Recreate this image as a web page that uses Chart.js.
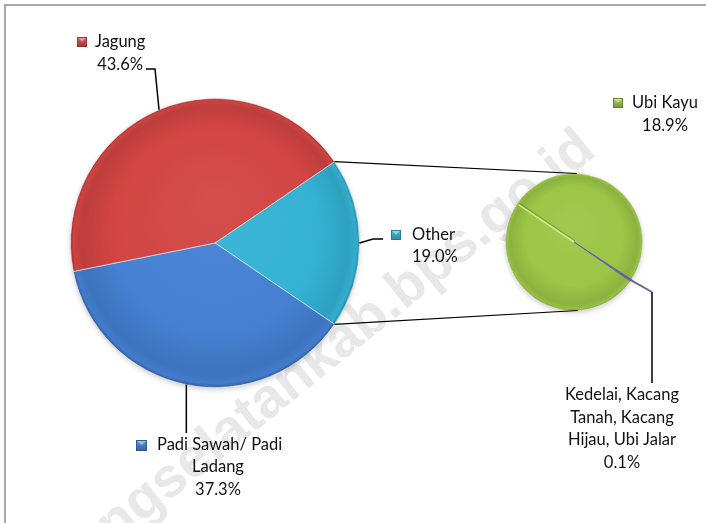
<!DOCTYPE html>
<html><head><meta charset="utf-8">
<script src="https://cdn.jsdelivr.net/npm/chart.js@4"></script>
<style>
html,body{margin:0;padding:0;background:#fff;}
#wrap{position:relative;width:706px;height:523px;overflow:hidden;background:#fff;}
canvas{position:absolute;left:0;top:0;}
#frame{position:absolute;left:4px;top:4px;width:760px;height:560px;border-left:2px solid #a9a9a9;border-top:2px solid #a9a9a9;}
</style></head><body>
<div id="wrap"><div id="frame"></div><canvas id="main" width="706" height="523"></canvas><canvas id="second" width="706" height="523"></canvas></div>
<script>
// ---- data ----
const mainLabels = ['Other', ['Padi Sawah/ Padi', 'Ladang'], 'Jagung'];
const mainValues = [19.0, 37.3, 43.6];
const mainColors = ['#34b2d4', '#4580d2', '#d24543'];
const secondLabels = ['Ubi Kayu', ['Kedelai, Kacang', 'Tanah, Kacang', 'Hijau, Ubi Jalar']];
const secondValues = [18.9, 0.1];
const secondColors = ['#9cc646', '#6e66a0'];
const watermark = 'lampungselatankab.bps.go.id';

// ---- helpers ----
const FONT = '16.5px Lato, "Open Sans", sans-serif';
const pct = v => v.toFixed(1) + '%';
function shade(hex, f) {
  const n = parseInt(hex.slice(1), 16);
  let r = n >> 16, g = (n >> 8) & 255, b = n & 255;
  if (f >= 0) { r += (255 - r) * f; g += (255 - g) * f; b += (255 - b) * f; }
  else { r *= 1 + f; g *= 1 + f; b *= 1 + f; }
  return `rgb(${Math.round(r)},${Math.round(g)},${Math.round(b)})`;
}
function pieFill(colors) {
  return function (c) {
    const base = colors[c.dataIndex];
    const ch = c.chart, a = ch.chartArea;
    if (!a) return base;
    const cx = (a.left + a.right) / 2, cy = (a.top + a.bottom) / 2;
    const r = Math.min(a.right - a.left, a.bottom - a.top) / 2;
    const g = ch.ctx.createRadialGradient(cx, cy - r * 0.3, r * 0.05, cx, cy, r);
    g.addColorStop(0, shade(base, 0.05));
    g.addColorStop(0.7, base);
    g.addColorStop(0.92, shade(base, -0.1));
    g.addColorStop(0.975, shade(base, -0.03));
    g.addColorStop(1, shade(base, -0.3));
    return g;
  };
}
function arcInfo(chart, i) {
  const el = chart.getDatasetMeta(0).data[i];
  const p = el.getProps(['x', 'y', 'startAngle', 'endAngle', 'outerRadius'], true);
  p.mid = (p.startAngle + p.endAngle) / 2;
  return p;
}
function pt(p, ang, r) { return [p.x + Math.cos(ang) * r, p.y + Math.sin(ang) * r]; }
function poly(ctx, pts, color, w) {
  ctx.save(); ctx.strokeStyle = color; ctx.lineWidth = w; ctx.beginPath();
  pts.forEach((q, k) => k ? ctx.lineTo(q[0], q[1]) : ctx.moveTo(q[0], q[1]));
  ctx.stroke(); ctx.restore();
}
function marker(ctx, x, y, s, color) {
  ctx.save();
  const g = ctx.createLinearGradient(x, y, x, y + s);
  g.addColorStop(0, shade(color, 0.15)); g.addColorStop(1, shade(color, -0.25));
  ctx.fillStyle = g; ctx.fillRect(x, y, s, s);
  ctx.fillStyle = shade(color, 0.45);
  ctx.beginPath(); ctx.moveTo(x + 1, y + 1); ctx.lineTo(x + s - 1, y + 1); ctx.lineTo(x + s / 2, y + s * 0.45); ctx.closePath(); ctx.fill();
  ctx.strokeStyle = shade(color, -0.35); ctx.lineWidth = 0.8; ctx.strokeRect(x + 0.4, y + 0.4, s - 0.8, s - 0.8);
  ctx.restore();
}
function text(ctx, str, x, y, align) {
  ctx.save(); ctx.font = FONT; ctx.fillStyle = '#111'; ctx.textAlign = align; ctx.textBaseline = 'middle';
  ctx.fillText(str, x, y); ctx.restore();
}
const shadowPlugin = {
  id: 'pieShadow',
  beforeDatasetsDraw(chart) {
    const p = arcInfo(chart, 0), ctx = chart.ctx;
    ctx.save(); ctx.shadowColor = 'rgba(0,0,0,0.28)'; ctx.shadowBlur = 6; ctx.shadowOffsetY = 2;
    ctx.fillStyle = '#fff'; ctx.beginPath(); ctx.arc(p.x, p.y, p.outerRadius - 1, 0, Math.PI * 2); ctx.fill(); ctx.restore();
  }
};

// ---- main pie ----
const mainTotal = mainValues.reduce((a, b) => a + b, 0);
const mainRotation = 90 - (mainValues[0] / mainTotal * 360) / 2;
const mainOverlay = {
  id: 'mainOverlay',
  beforeDraw(chart) {
    const ctx = chart.ctx;
    ctx.save(); ctx.translate(588, 142); ctx.rotate(-39 * Math.PI / 180);
    ctx.font = 'bold 56px "Liberation Sans", Arial, sans-serif'; ctx.fillStyle = '#e8e8e8';
    ctx.textAlign = 'right'; ctx.textBaseline = 'middle'; ctx.fillText(watermark, 0, 0); ctx.restore();
  },
  afterDraw(chart) {
    const ctx = chart.ctx;
    // Jagung
    let p = arcInfo(chart, 2), s = pt(p, p.mid, p.outerRadius);
    poly(ctx, [s, [155, 69], [146, 69]], '#000', 1.5);
    marker(ctx, 77, 37, 10, mainColors[2]);
    text(ctx, mainLabels[2], 95, 42, 'left');
    text(ctx, pct(mainValues[2]), 143, 65, 'right');
    // Other
    p = arcInfo(chart, 0); s = pt(p, p.mid, p.outerRadius);
    poly(ctx, [s, [373, 239], [383, 239]], '#000', 1.5);
    marker(ctx, 391, 230, 10, mainColors[0]);
    text(ctx, mainLabels[0], 412, 235, 'left');
    text(ctx, pct(mainValues[0]), 412, 257, 'left');
    // Padi
    p = arcInfo(chart, 1); s = pt(p, p.mid, p.outerRadius);
    poly(ctx, [s, [s[0], 433]], '#000', 1.5);
    marker(ctx, 136, 440, 11, mainColors[1]);
    text(ctx, mainLabels[1][0], 157, 445, 'left');
    text(ctx, mainLabels[1][1], 218, 467, 'center');
    text(ctx, pct(mainValues[1]), 218, 490, 'center');
  }
};
const mainChart = new Chart(document.getElementById('main'), {
  type: 'pie',
  data: { labels: mainLabels, datasets: [{ data: mainValues, backgroundColor: pieFill(mainColors), borderColor: 'rgba(255,255,255,0.5)', borderWidth: 1 }] },
  options: {
    responsive: false, animation: false, events: [], rotation: mainRotation,
    layout: { padding: { left: 70, right: 346, top: 98, bottom: 135 } },
    plugins: { legend: { display: false }, tooltip: { enabled: false } }
  },
  plugins: [mainOverlay, shadowPlugin]
});

// ---- secondary pie ----
const secTotal = secondValues.reduce((a, b) => a + b, 0);
const secA0 = secondValues[0] / secTotal * 360, secA1 = secondValues[1] / secTotal * 360;
const secondRotation = 34 + 90 - secA0 - secA1 / 2 + 360;
const secondOverlay = {
  id: 'secondOverlay',
  afterDatasetsDraw(chart) {
    const ctx = chart.ctx;
    const k = arcInfo(chart, 1);
    const opp = k.mid + Math.PI;
    const e = pt(k, opp, k.outerRadius - 2);
    const nx = -Math.sin(opp), ny = Math.cos(opp);
    poly(ctx, [[k.x + nx * 1.5, k.y + ny * 1.5], [e[0] + nx * 1.5, e[1] + ny * 1.5]], 'rgba(95,125,30,0.55)', 1.2);
    poly(ctx, [[k.x, k.y], e], 'rgba(215,235,150,0.95)', 1.6);
  },
  afterDraw(chart) {
    const ctx = chart.ctx;
    // connectors
    const m = arcInfo(mainChart, 0);
    const s = arcInfo(chart, 0);
    poly(ctx, [pt(m, m.startAngle, m.outerRadius), [s.x + 3, s.y - s.outerRadius]], '#000', 1.2);
    poly(ctx, [pt(m, m.endAngle, m.outerRadius), [s.x + 4, s.y + s.outerRadius]], '#000', 1.2);
    // Ubi Kayu
    marker(ctx, 613, 98, 10, secondColors[0]);
    text(ctx, secondLabels[0], 632, 103, 'left');
    text(ctx, pct(secondValues[0]), 665, 126, 'center');
    // Kedelai
    const k = arcInfo(chart, 1);
    const e = pt(k, k.mid, k.outerRadius - 1);
    poly(ctx, [e, [652, 292]], '#6b6594', 2);
    poly(ctx, [[652, 292], [652, 383]], '#000', 1.5);
    secondLabels[1].forEach((ln, i) => text(ctx, ln, 622, 395 + i * 22.5, 'center'));
    text(ctx, pct(secondValues[1]), 622, 395 + secondLabels[1].length * 22.5, 'center');
  }
};
const secondChart = new Chart(document.getElementById('second'), {
  type: 'pie',
  data: { labels: secondLabels, datasets: [{ data: secondValues, backgroundColor: pieFill(secondColors), borderColor: ['rgba(255,255,255,0.35)', '#6b6594'], borderWidth: 1 }] },
  options: {
    responsive: false, animation: false, events: [], rotation: secondRotation,
    layout: { padding: { left: 505, right: 63, top: 173, bottom: 212 } },
    plugins: { legend: { display: false }, tooltip: { enabled: false } }
  },
  plugins: [secondOverlay, shadowPlugin]
});
</script>
</body></html>
